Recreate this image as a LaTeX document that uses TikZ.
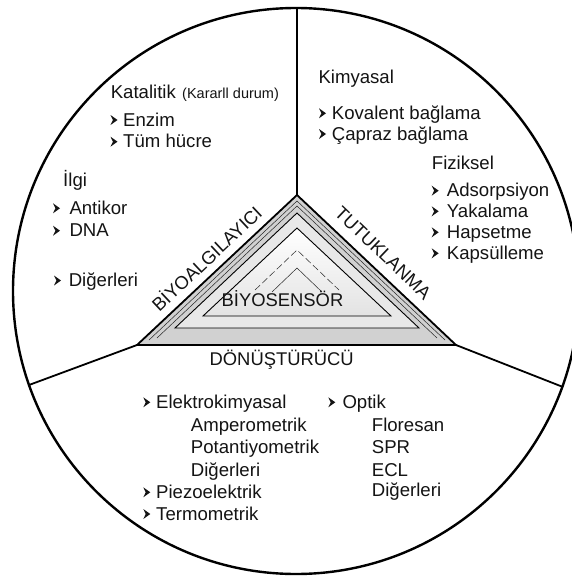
\documentclass[tikz,border=0pt]{standalone}
\usepackage{fontspec}
\setmainfont{Liberation Sans}
\begin{document}
\begin{tikzpicture}[x=1pt,y=-1pt,
  lbl/.style={inner sep=0pt, anchor=base west, font=\fontsize{18.6}{21}\selectfont, text=black!92},
  smalllbl/.style={inner sep=0pt, anchor=base west, font=\fontsize{14.5}{17}\selectfont, text=black!92},
  midlbl/.style={inner sep=0pt, anchor=base, font=\fontsize{18.4}{21}\selectfont, text=black!92},
  sidelbl/.style={inner sep=0pt, anchor=center, font=\fontsize{18.4}{21}\selectfont, text=black!92},
  pics/bul/.style={code={\fill[black!92] (0,-5) -- (7,0) -- (0,5) -- (2.4,0) -- cycle;}},
  rim/.style={line width=2.4pt, black},
  divider/.style={line width=1.8pt, black},
  thinline/.style={line width=0.5pt, black!85},
  midline/.style={line width=0.9pt, black}]
\useasboundingbox (0,0) rectangle (572,578);
\clip (0,0) rectangle (572,578);
\fill[white] (0,0) rectangle (572,578);

% key points
\coordinate (c) at (296,291);
\coordinate (apex) at (297,195);
\coordinate (bl) at (137,345);
\coordinate (br) at (456,345);
\coordinate (ctop) at (297,8);
\coordinate (cleft) at (29,385);
\coordinate (cright) at (563,387);

% triangle with nested outlines
\fill[black!18] (apex) -- (bl) -- (br) -- cycle;
\fill[black!9] (297,213) -- (175,328) -- (419,328) -- cycle;
\shade[top color=white, bottom color=black!11] (297,228) -- (203,316) -- (391,316) -- cycle;
\draw[thinline] (149,340) -- (297,201) -- (445,340);
\draw[thinline] (157,338) -- (297,206) -- (437,338);
\draw[midline] (297,213) -- (175,328) -- (419,328) -- cycle;
\draw[midline] (297,228) -- (203,316) -- (391,316) -- cycle;
\draw[thinline, dash pattern=on 7pt off 3pt] (255,290) -- (297,250) -- (339,290);
\draw[thinline] (272,292) -- (297,268) -- (322,292);
\draw[divider] (apex) -- (bl) -- (br) -- cycle;

% circle and dividers
\draw[rim] (c) circle[radius=283];
\draw[divider] (apex) -- (ctop);
\draw[divider] (bl) -- (cleft);
\draw[divider] (br) -- (cright);

% triangle labels
\node[midlbl] (biyosensor) at (282.5,306.7) {BİYOSENSÖR};
\node[sidelbl, rotate=43.2] (biyoalg) at (206,258) {BİYOALGILAYICI};
\node[sidelbl, rotate=-43.7] (tutuk) at (383,253) {TUTUKLANMA};
\node[midlbl] (donus) at (281.7,365) {DÖNÜŞTÜRÜCÜ};

% top-left sector
\node[lbl] (katal) at (110.6,98) {Katalitik};
\node[smalllbl] (kararli) at (182,98) {(Kararll durum)};
\node[lbl] (enzim) at (123,126) {Enzim};
\pic at (110.5,120) {bul};
\node[lbl] (tum) at (123,147.7) {Tüm hücre};
\pic at (110.5,141.7) {bul};
\node[lbl] (ilgi) at (63,186.7) {İlgi};
\node[lbl] (antikor) at (69.3,214.3) {Antikor};
\pic at (53,208.3) {bul};
\node[lbl] (dna) at (69.3,236.7) {DNA};
\pic at (53,230.7) {bul};
\node[lbl] (diger1) at (68.6,286.5) {Diğerleri};
\pic at (54,280.5) {bul};

% top-right sector
\node[lbl] (kimya) at (318.3,84) {Kimyasal};
\node[lbl] (koval) at (331.7,119.3) {Kovalent bağlama};
\pic at (319,113.3) {bul};
\node[lbl] (capraz) at (331.7,140) {Çapraz bağlama};
\pic at (319,134) {bul};
\node[lbl] (fizik) at (431.7,169) {Fiziksel};
\node[lbl] (adsor) at (446.7,196.7) {Adsorpsiyon};
\pic at (431.7,190.7) {bul};
\node[lbl] (yakal) at (446.7,217.3) {Yakalama};
\pic at (431.7,211.3) {bul};
\node[lbl] (haps) at (446.7,238.3) {Hapsetme};
\pic at (431.7,232.3) {bul};
\node[lbl] (kaps) at (446.7,259.3) {Kapsülleme};
\pic at (431.7,253.3) {bul};

% bottom sector
\node[lbl] (elektro) at (156,408.3) {Elektrokimyasal};
\pic at (143.3,402.3) {bul};
\node[lbl] (amper) at (190.7,431.7) {Amperometrik};
\node[lbl] (potan) at (190.7,453.3) {Potantiyometrik};
\node[lbl] (diger2) at (190.7,476) {Diğerleri};
\node[lbl] (piezo) at (156,498.3) {Piezoelektrik};
\pic at (143.3,492.3) {bul};
\node[lbl] (termo) at (156,520) {Termometrik};
\pic at (143.3,514) {bul};
\node[lbl] (optik) at (342.3,408.3) {Optik};
\pic at (328.3,402.3) {bul};
\node[lbl] (flor) at (371.7,431.7) {Floresan};
\node[lbl] (spr) at (371.7,453.3) {SPR};
\node[lbl] (ecl) at (371.7,476) {ECL};
\node[lbl] (diger3) at (371.7,496.7) {Diğerleri};
\end{tikzpicture}
\end{document}
